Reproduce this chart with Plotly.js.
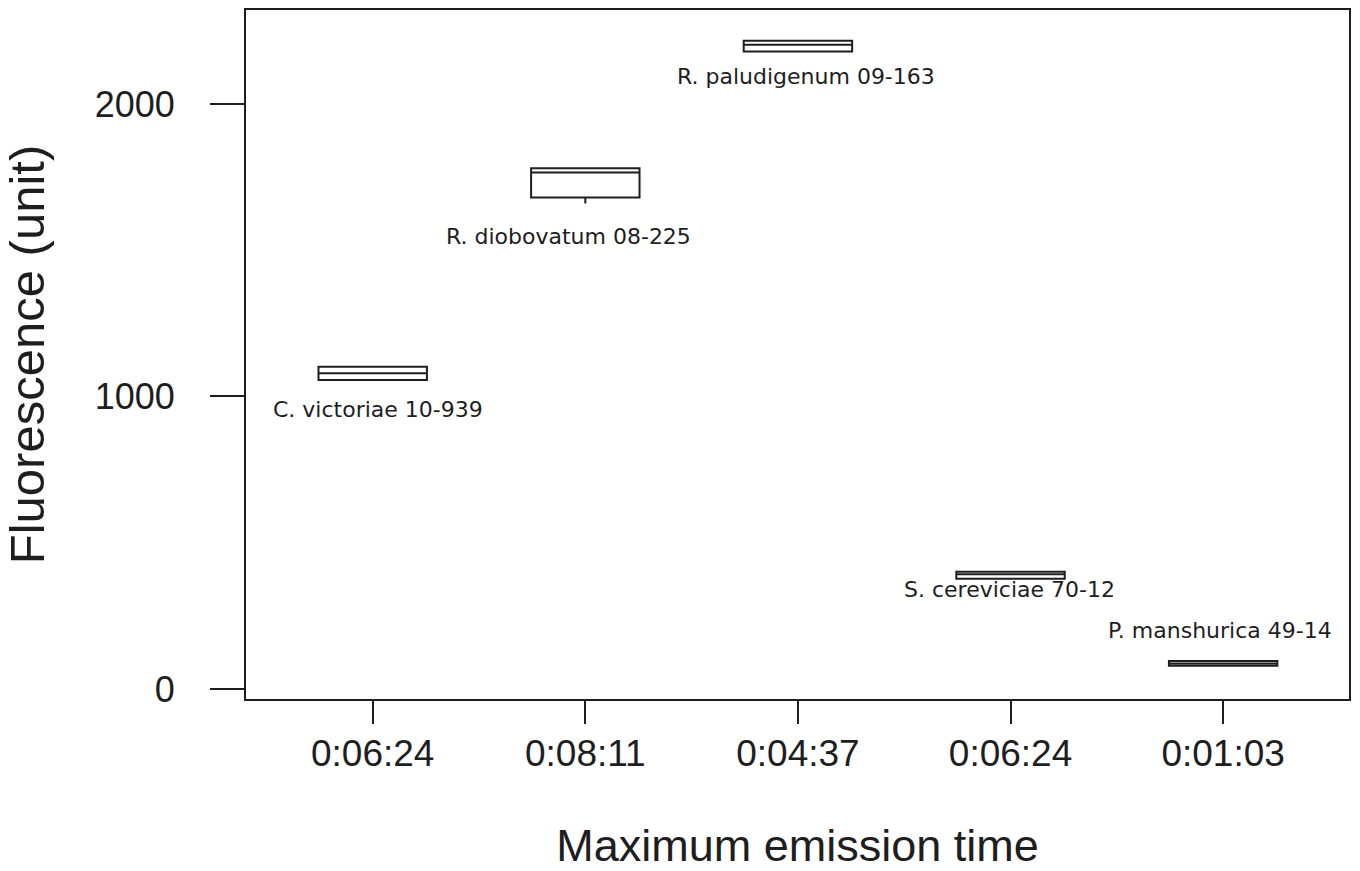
<!DOCTYPE html>
<html>
<head>
<meta charset="utf-8">
<script src="https://cdn.plot.ly/plotly-3.0.1.min.js"></script>
<style>html,body{margin:0;padding:0;background:#fff;}#chart{width:1360px;height:871px;}</style>
</head>
<body>
<div id="chart"></div>
<script>
// Data
const positions = [1, 2, 3, 4, 5];
const timeLabels = ["0:06:24", "0:08:11", "0:04:37", "0:06:24", "0:01:03"];
const strains = ["C. victoriae 10-939", "R. diobovatum 08-225", "R. paludigenum 09-163", "S. cereviciae 70-12", "P. manshurica 49-14"];
const q1Values = [1056, 1680, 2179, 377, 80];
const medianValues = [1079, 1766, 2202, 392, 87];
const q3Values = [1102, 1780, 2216, 401, 96];
const lowerWhisker = [1056, 1660, 2179, 377, 80];
const upperWhisker = [1102, 1780, 2216, 401, 96];
const yTicks = [0, 1000, 2000];

// Label placement (pixels)
const labelAnchorAbove = [false, false, false, false, true];
const labelXShift = [5, -17, 8, -1, -3];
const labelYShift = [-29, -33, -25, -11, 30];

const ink = "#1e1e1e";

const trace = {
  type: "box",
  x: positions,
  q1: q1Values,
  median: medianValues,
  q3: q3Values,
  lowerfence: lowerWhisker,
  upperfence: upperWhisker,
  width: 0.51,
  whiskerwidth: 0,
  fillcolor: "#ffffff",
  line: {color: ink, width: 2},
  boxpoints: false,
  hoverinfo: "none",
  showlegend: false
};

const annotations = strains.map((s, i) => ({
  x: positions[i],
  y: labelAnchorAbove[i] ? upperWhisker[i] : lowerWhisker[i],
  xref: "x", yref: "y",
  text: s,
  showarrow: false,
  xanchor: "center",
  yanchor: "middle",
  xshift: labelXShift[i],
  yshift: labelYShift[i],
  font: {family: "DejaVu Sans", size: 22, color: ink}
}));

const layout = {
  width: 1360, height: 871,
  margin: {l: 246, r: 11, t: 10, b: 172},
  paper_bgcolor: "#ffffff",
  plot_bgcolor: "#ffffff",
  font: {family: "Liberation Sans, Arial, sans-serif", color: ink},
  xaxis: {
    range: [0.404, 5.592],
    tickmode: "array",
    tickvals: positions,
    ticktext: timeLabels,
    ticks: "outside", ticklen: 23, tickwidth: 2, tickcolor: ink,
    tickfont: {size: 37, color: ink},
    ticklabelstandoff: -2,
    showline: true, linewidth: 2, linecolor: ink, mirror: true,
    showgrid: false, zeroline: false,
    title: {text: "Maximum emission time", font: {size: 45, color: ink}, standoff: 66}
  },
  yaxis: {
    range: [-34, 2321],
    tickmode: "array",
    tickvals: yTicks,
    ticks: "outside", ticklen: 34, tickwidth: 2, tickcolor: ink,
    tickfont: {size: 36, color: ink},
    ticklabelstandoff: 28,
    showline: true, linewidth: 2, linecolor: ink, mirror: true,
    showgrid: false, zeroline: false,
    title: {text: "Fluorescence (unit)", font: {size: 49, color: ink}, standoff: 38}
  },
  annotations: annotations
};

Plotly.newPlot("chart", [trace], layout, {displayModeBar: false, staticPlot: true});
</script>
</body>
</html>
